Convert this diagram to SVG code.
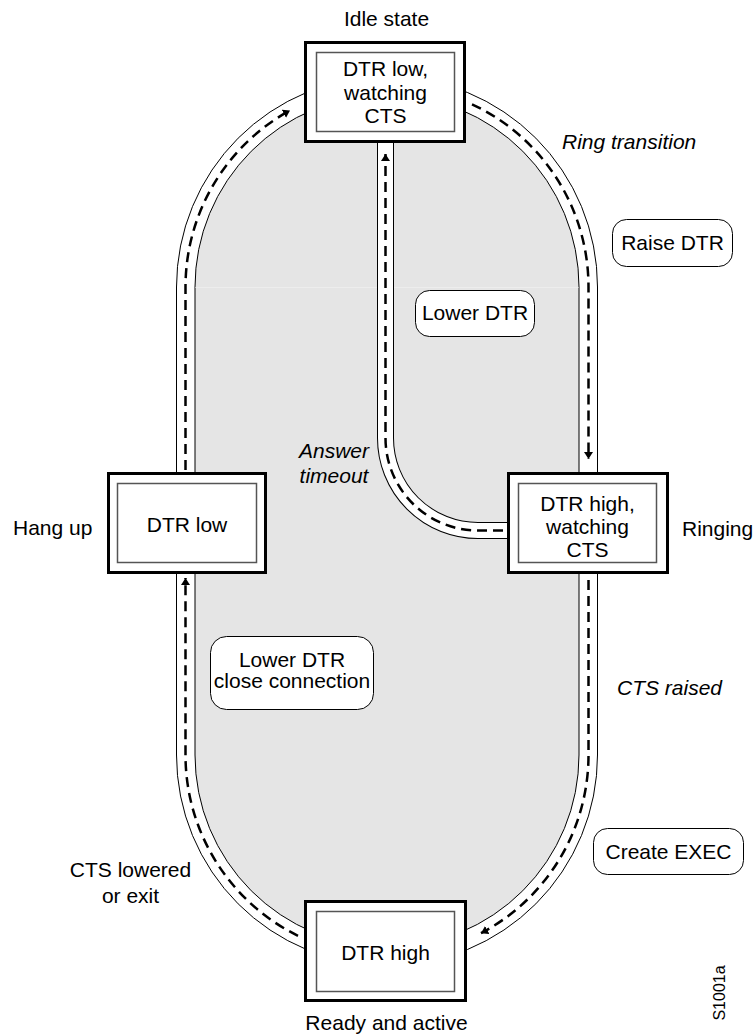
<svg xmlns="http://www.w3.org/2000/svg" width="755" height="1034" viewBox="0 0 755 1034">
<style>
text{font-family:"Liberation Sans",Arial,sans-serif;font-size:21px;fill:#000}
.c{text-anchor:middle}
.i{font-style:italic}
.outer{fill:#fff;stroke:#000;stroke-width:3}
.inner{fill:none;stroke:#555;stroke-width:1.5}
.act{fill:#fff;stroke:#000;stroke-width:1}
.dash{fill:none;stroke:#000;stroke-width:2.5;stroke-dasharray:10 6;marker-end:url(#ah)}
</style>
<defs>
<marker id="ah" markerUnits="userSpaceOnUse" markerWidth="8" markerHeight="10" refX="7" refY="4.5" orient="auto" viewBox="0 0 8 10">
<path d="M0,0 L7,4.5 L0,9 z" fill="#000"/>
</marker>
</defs>
<rect width="755" height="1034" fill="#fff"/>
<g id="track">
<path d="M176.5,287 A210.5,210.5 0 0 1 597.5,287 L597.5,755 A210.5,210.5 0 0 1 176.5,755 Z" fill="#fff" stroke="#000" stroke-width="1"/>
<path d="M195,287 A192,192 0 0 1 579,287 L579,755 A192,192 0 0 1 195,755 Z" fill="#e5e5e5" stroke="#000" stroke-width="1"/>
<line x1="195.5" y1="287.5" x2="578.5" y2="287.5" stroke="#ededed" stroke-width="1"/>
<path d="M507,530.5 L478,530.5 A92.5,92.5 0 0 1 385.5,438 L385.5,143" fill="none" stroke="#000" stroke-width="17"/>
<path d="M508,530.5 L478,530.5 A92.5,92.5 0 0 1 385.5,438 L385.5,142" fill="none" stroke="#fff" stroke-width="15"/>
</g>
<g id="connectors">
<path class="dash" d="M185.5,470 L185.5,287 A201.5,201.5 0 0 1 290,110.4"/>
<path class="dash" d="M472,104.3 A201.5,201.5 0 0 1 588.5,287 L588.5,459"/>
<path class="dash" d="M588.5,580 L588.5,755 A201.5,201.5 0 0 1 481,933.2"/>
<path class="dash" d="M298,935.8 A201.5,201.5 0 0 1 185.5,755 L185.5,578"/>
<path class="dash" d="M503,530.5 L478,530.5 A92.5,92.5 0 0 1 385.5,438 L385.5,154"/>
</g>
<g id="node-idle">
<rect class="outer" x="305.5" y="42.5" width="159" height="99"/>
<rect class="inner" x="316.5" y="52.5" width="138" height="79"/>
<text class="c" x="385.5" y="76">DTR low,</text>
<text class="c" x="385.5" y="99.5">watching</text>
<text class="c" x="385.5" y="123">CTS</text>
</g>
<g id="node-hangup">
<rect class="outer" x="108.5" y="473.5" width="157" height="99"/>
<rect class="inner" x="117.5" y="483.5" width="139" height="79"/>
<text class="c" x="187" y="532">DTR low</text>
</g>
<g id="node-ringing">
<rect class="outer" x="508.5" y="473.5" width="159" height="99"/>
<rect class="inner" x="518.5" y="483.5" width="138" height="79"/>
<text class="c" x="587.5" y="511">DTR high,</text>
<text class="c" x="587.5" y="534">watching</text>
<text class="c" x="587.5" y="557">CTS</text>
</g>
<g id="node-ready">
<rect class="outer" x="305.5" y="901.5" width="160" height="99"/>
<rect class="inner" x="316.5" y="911.5" width="138" height="80"/>
<text class="c" x="385.5" y="960">DTR high</text>
</g>
<g id="action-raise">
<rect class="act" x="612.5" y="219.5" width="120" height="47" rx="14"/>
<text class="c" x="672.5" y="250">Raise DTR</text>
</g>
<g id="action-lower">
<rect class="act" x="415.5" y="290.5" width="119" height="46" rx="14"/>
<text class="c" x="475" y="320">Lower DTR</text>
</g>
<g id="action-close">
<rect class="act" x="210.5" y="636.5" width="163" height="73" rx="16"/>
<text class="c" x="292" y="667">Lower DTR</text>
<text class="c" x="292" y="688">close connection</text>
</g>
<g id="action-exec">
<rect class="act" x="593.5" y="828.5" width="150" height="46" rx="14"/>
<text class="c" x="668.5" y="859">Create EXEC</text>
</g>
<g id="labels">
<text class="c" x="386.5" y="26">Idle state</text>
<text class="i" x="562" y="149">Ring transition</text>
<text class="c i" x="334" y="458">Answer</text>
<text class="c i" x="334" y="483">timeout</text>
<text x="13" y="535">Hang up</text>
<text x="682" y="536">Ringing</text>
<text class="i" x="617" y="695">CTS raised</text>
<text class="c" x="130.5" y="877">CTS lowered</text>
<text class="c" x="130.5" y="903">or exit</text>
<text class="c" x="386.5" y="1030">Ready and active</text>
<text class="c" style="font-size:16px" transform="translate(725,993) rotate(-90)">S1001a</text>
</g>
</svg>
